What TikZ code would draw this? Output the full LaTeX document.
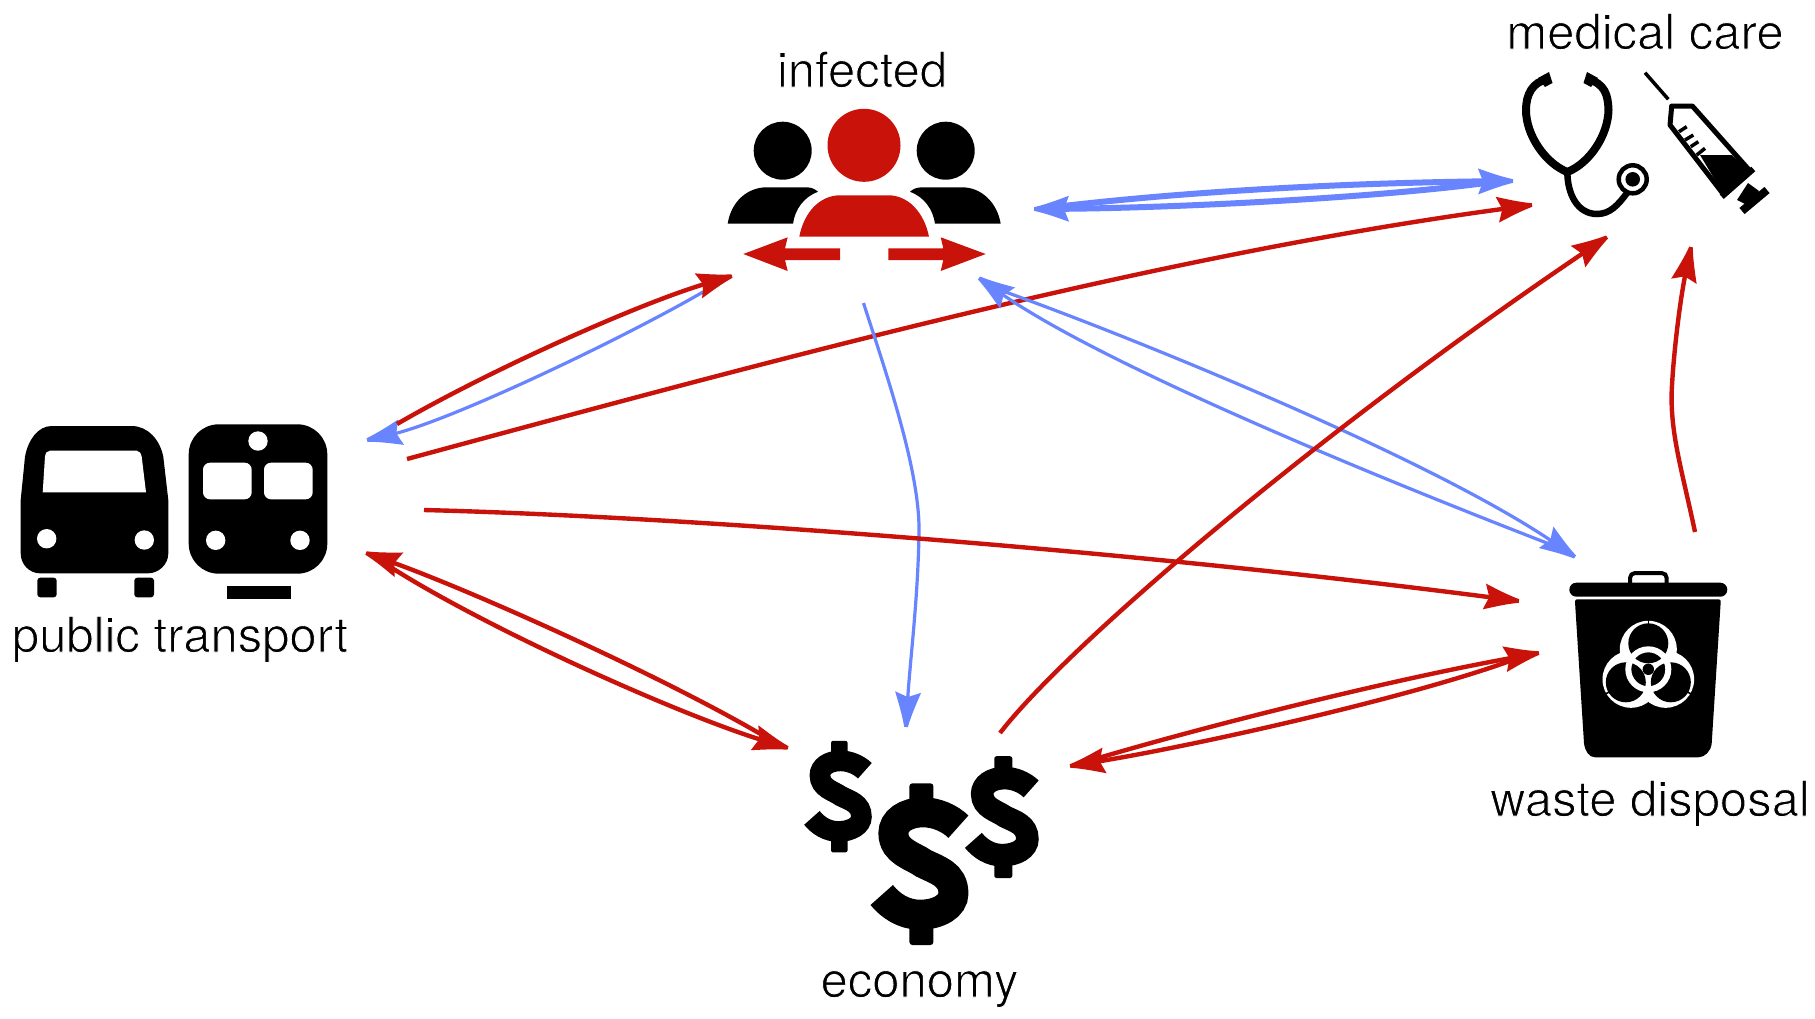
\documentclass[tikz,border=0pt]{standalone}
\usepackage{fontspec}
\setmainfont{TeX Gyre Heros}
\usetikzlibrary{arrows.meta}
\definecolor{redc}{RGB}{200,18,10}
\definecolor{bluec}{RGB}{104,132,255}
\pgfdeclarearrow{
  name=Dart,
  setup code={
    \pgfarrowssettipend{0pt}
    \pgfarrowssetlineend{-26pt}
    \pgfarrowssetvisualbackend{-26pt}
    \pgfarrowssetbackend{-35pt}
    \pgfarrowshullpoint{0pt}{0pt}
    \pgfarrowshullpoint{-35pt}{13pt}
    \pgfarrowshullpoint{-35pt}{-13pt}
  },
  drawing code={
    \pgfsetlinewidth{0pt}
    \pgfpathmoveto{\pgfqpoint{0pt}{1.8pt}}
    \pgfpathcurveto{\pgfqpoint{-12pt}{4.5pt}}{\pgfqpoint{-24pt}{9pt}}{\pgfqpoint{-35pt}{13pt}}
    \pgfpathlineto{\pgfqpoint{-30pt}{0pt}}
    \pgfpathlineto{\pgfqpoint{-35pt}{-13pt}}
    \pgfpathcurveto{\pgfqpoint{-24pt}{-9pt}}{\pgfqpoint{-12pt}{-4.5pt}}{\pgfqpoint{0pt}{-1.8pt}}
    \pgfpathclose
    \pgfusepathqfill
  }
}
\newcommand\lighttext[1]{\special{pdf:code q 2 Tr 1 1 1 RG 0.9 w}#1\special{pdf:code 0 Tr Q}}
\tikzset{
  lab/.style={inner sep=0pt,anchor=base,text=black,font=\fontsize{49}{56}\selectfont},
  redline/.style={draw=redc,line width=4.4pt,-{Dart}},
  blueline/.style={draw=bluec,line width=3.2pt,-{Dart}},
  bluethick/.style={draw=bluec,line width=6pt,line cap=round,-{Dart}},
  ink/.style={fill=black,draw=none},
  redink/.style={fill=redc,draw=none},
  hole/.style={fill=white,draw=none}
}
\newcommand\mydollar[3]{%
  \begin{scope}[shift={(#1,#2)},scale=#3]
    \draw[line width=#3*30pt,black] (36.7,-37.3) .. controls (28,-46) and (14,-51.7) .. (1.7,-51.7)
      .. controls (-16,-51.7) and (-28.3,-43) .. (-28.3,-30.7)
      .. controls (-28.3,-12) and (-8,-8) .. (1.7,-0.7)
      .. controls (15,6) and (31.7,10) .. (31.7,29.3)
      .. controls (31.7,42) and (17,50.7) .. (-1.7,50.7)
      .. controls (-18,50.7) and (-31,42) .. (-40,31);
    \fill[black,rounded corners=#3*3pt] (-12.3,-80.7) rectangle (11.7,-55);
    \fill[black,rounded corners=#3*3pt] (-12.3,58) rectangle (11.7,81);
  \end{scope}}
\begin{document}
\begin{tikzpicture}[x=1pt,y=-1pt]
\path[use as bounding box,fill=white] (0,0) rectangle (1815,1018);

% ---------- labels
\node[lab] (infected) at (862,87) {\lighttext{infected}};
\node[lab] (medical) at (1645,49) {\lighttext{medical care}};
\node[lab] (transport) at (180,652) {\lighttext{public transport}};
\node[lab] (waste) at (1650,816) {\lighttext{waste disposal}};
\node[lab] (economy) at (919.5,997) {\lighttext{economy}};

% ---------- infected icon
\fill[ink] (782.7,150.7) circle (29);
\fill[ink] (945.7,150.7) circle (29);
\fill[redink] (864,145.3) circle (36.5);
\fill[ink] (727.7,223.7) .. controls (731,202) and (747,187.3) .. (766.7,187.3) -- (806.7,187.3)
  .. controls (811,187.3) and (815,189) .. (818,191.7) .. controls (804,197) and (795,209) .. (793,223.7) -- cycle;
\fill[ink] (1000.7,223.7) .. controls (997,202) and (981,187.3) .. (962,187.3) -- (922,187.3)
  .. controls (917,187.3) and (913,189) .. (910,191.7) .. controls (924,197) and (933,209) .. (935,223.7) -- cycle;
\fill[redink] (799.3,236.7) .. controls (804,212) and (820,195.3) .. (840,195.3) -- (888.3,195.3)
  .. controls (908,195.3) and (924,212) .. (929,236.7) -- cycle;
\fill[redink] (743.3,254) -- (787.7,237.3) -- (785,248.3) -- (840,248.3) -- (840,260) -- (785,260) -- (787.7,271) -- cycle;
\fill[redink] (985.7,254) -- (940.7,237.3) -- (943.3,248.3) -- (888.3,248.3) -- (888.3,260) -- (943.3,260) -- (940.7,271) -- cycle;

% ---------- medical icon: stethoscope
\draw[line width=8pt,black] (1548,79) .. controls (1532,82) and (1526,95) .. (1526,110)
  .. controls (1526,135) and (1545,163) .. (1567.3,172)
  .. controls (1590,163) and (1608,135) .. (1608.5,110)
  .. controls (1608,95) and (1605,84) .. (1588,79);
\fill[ink] (1549,72) -- (1552.5,83) -- (1545,87) -- (1538,78) -- cycle;
\fill[ink] (1587,72) -- (1583.5,83) -- (1591,87) -- (1598,78) -- cycle;
\draw[line width=6.5pt,black] (1567.3,170) .. controls (1567,195) and (1578,214) .. (1597,214)
  .. controls (1610,214) and (1618,205) .. (1627,193);
\draw[line width=4.5pt,black,fill=white] (1632.7,179.3) circle (14);
\fill[ink] (1632.7,179.3) circle (7.3);
% syringe
\draw[line width=3.5pt,black] (1645,72.7) -- (1668.3,99.3);
\fill[ink] (1700,155) -- (1731.7,155) -- (1750.7,171.7) -- (1724,195) -- cycle;
\draw[line width=5pt,black,line join=round] (1724,195) -- (1670,125) -- (1671.7,106) -- (1692.3,106) -- (1750,171);
\draw[line width=6pt,black] (1721.7,196.7) -- (1753.3,169);
\draw[line width=3.5pt,black] (1679,131.7) -- (1686.7,126.7);
\draw[line width=3.5pt,black] (1685,140) -- (1693.3,135);
\draw[line width=3.5pt,black] (1690.7,146.7) -- (1698.3,141.7);
\draw[line width=3.5pt,black] (1696.7,155) -- (1705,148.3);
\fill[ink] (1748,183) -- (1759,191) -- (1749,206) -- (1737,200) -- cycle;
\draw[line width=8pt,black] (1742,211) -- (1767,190);

% ---------- bus
\fill[ink] (20.7,500) -- (25,456.7) .. controls (28,440) and (38,426) .. (51.7,426) -- (131.7,426)
  .. controls (148,426) and (160,440) .. (163.3,456.7) -- (168.3,500) -- (168.3,553.3)
  .. controls (168.3,565) and (158,573.3) .. (148.3,573.3) -- (40,573.3)
  .. controls (30,573.3) and (20.7,565) .. (20.7,553.3) -- cycle;
\fill[hole] (42.7,492.3) -- (45,456.7) .. controls (45.5,453) and (47,450.7) .. (50,450.7) -- (136.7,450.7)
  .. controls (139,450.7) and (141,453) .. (141.7,456.7) -- (146,492.3) -- cycle;
\fill[hole] (46.7,538.7) circle (9.7);
\fill[hole] (144.3,540) circle (9.7);
\fill[ink,rounded corners=3pt] (37.3,577.7) rectangle (56.7,597.3);
\fill[ink,rounded corners=3pt] (134.3,577.7) rectangle (154,597.3);
% train
\fill[ink,rounded corners=30pt] (188.7,424.3) rectangle (327.3,573.7);
\fill[hole] (258,441) circle (9.7);
\fill[hole,rounded corners=7pt] (203,462.7) rectangle (251.7,499.3);
\fill[hole,rounded corners=7pt] (264,462.7) rectangle (312.7,499.3);
\fill[hole] (215.7,540.3) circle (9.7);
\fill[hole] (300,540.3) circle (9.7);
\fill[ink] (227.3,585.7) rectangle (291.3,599);

% ---------- waste bin
\draw[line width=4pt,black,rounded corners=5pt] (1630,584) -- (1630,573) -- (1666.7,573) -- (1666.7,584);
\fill[ink,rounded corners=7pt] (1569.3,582.7) rectangle (1727.3,596.7);
\fill[ink] (1577,599.3) -- (1718.7,599.3) .. controls (1720.5,599.3) and (1720.7,600.5) .. (1720.7,602)
  -- (1711.7,743.3) .. controls (1711,751) and (1705,757.3) .. (1698.3,757.3) -- (1595,757.3)
  .. controls (1589,757.3) and (1585,751) .. (1584,743.3) -- (1575,602) .. controls (1575,600.5) and (1575.5,599.3) .. (1577,599.3) -- cycle;
\begin{scope}[shift={(1648.3,669.3)}]
  \foreach \a in {90,210,330} \fill[hole] (\a:-20) circle (28.5);
  \foreach \a in {90,210,330} \fill[ink] (\a:-26) circle (20);
  \draw[white,line width=6pt] (0,0) circle (20);
  \fill[ink] (0,0) circle (5.7);
  \foreach \a in {90,210,330} \draw[black,line width=1.6pt] (\a:-44) -- (\a:-50);
\end{scope}

% ---------- dollars
\mydollar{839.5}{796.5}{0.69}
\mydollar{1003.5}{817}{0.753}
\mydollar{921.7}{864}{1}

% ---------- connector ends
\coordinate (trA) at (397,424);
\coordinate (trB) at (367,440);
\coordinate (trC) at (407,459);
\coordinate (trD) at (424,510);
\coordinate (trE) at (366,553);
\coordinate (trF) at (392,568);
\coordinate (inA) at (732,276);
\coordinate (inB) at (703,292);
\coordinate (inC) at (1055,207);
\coordinate (inD) at (1034,209);
\coordinate (inE) at (979,278);
\coordinate (inF) at (1000,290);
\coordinate (inG) at (863.5,303);
\coordinate (meA) at (1532,205);
\coordinate (meB) at (1513,181);
\coordinate (meC) at (1500,181);
\coordinate (meD) at (1607,237);
\coordinate (meE) at (1691,247);
\coordinate (waA) at (1575,557);
\coordinate (waB) at (1552,545);
\coordinate (waC) at (1695,532);
\coordinate (waD) at (1519,601);
\coordinate (waE) at (1539,653);
\coordinate (waF) at (1518,658);
\coordinate (ecA) at (788,748);
\coordinate (ecB) at (764,736);
\coordinate (ecC) at (906,727);
\coordinate (ecD) at (1000,733);
\coordinate (ecE) at (1070,766);
\coordinate (ecF) at (1095,759);

% ---------- connectors
\draw[blueline] (inB) .. controls (620,340) and (450,421) .. (trB);
\draw[redline] (trA) .. controls (490,370) and (640,303) .. (inA);
\draw[redline] (trC) .. controls (780,358) and (1160,255) .. (meA);
\draw[bluethick] (inC) .. controls (1180,192) and (1340,183) .. (meB);
\draw[bluethick] (meC) .. controls (1390,197) and (1180,208) .. (inD);
\draw[blueline] (inF) .. controls (1140,340) and (1433,460) .. (waA);
\draw[blueline] (waB) .. controls (1410,490) and (1110,370) .. (inE);
\draw[blueline] (inG) .. controls (885,370) and (920,470) .. (919,532) .. controls (918,600) and (910,660) .. (ecC);
\draw[redline] (trD) .. controls (700,517) and (1150,553) .. (waD);
\draw[redline] (ecD) .. controls (1068,645) and (1318,432) .. (meD);
\draw[redline] (waC) .. controls (1682,470) and (1669,430) .. (1672,385) .. controls (1674,350) and (1680,300) .. (meE);
\draw[redline] (ecF) .. controls (1220,722) and (1400,678) .. (waE);
\draw[redline] (waF) .. controls (1420,695) and (1200,745) .. (ecE);
\draw[redline] (ecB) .. controls (660,675) and (470,590) .. (trE);
\draw[redline] (trF) .. controls (490,630) and (680,715) .. (ecA);
\end{tikzpicture}
\end{document}
